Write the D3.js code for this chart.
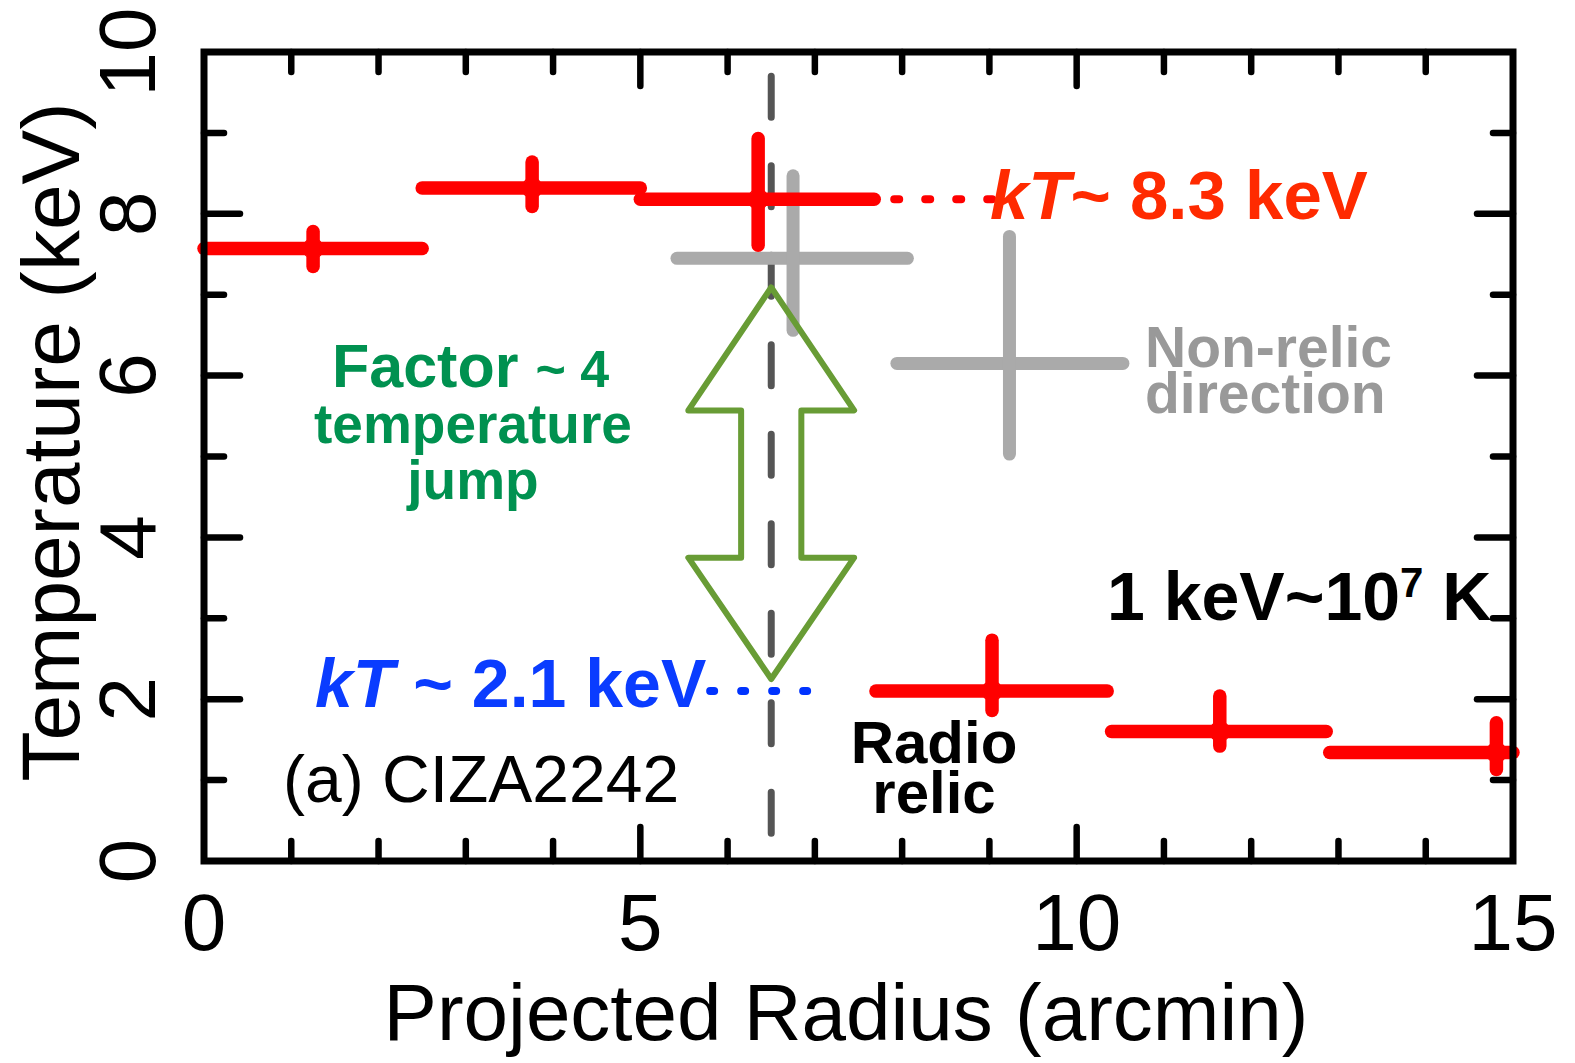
<!DOCTYPE html>
<html>
<head>
<meta charset="utf-8">
<script src="https://cdn.jsdelivr.net/npm/d3@7"></script>
<style>
  html, body { margin: 0; padding: 0; background: #fff; }
  svg { display: block; font-family: "Liberation Sans", Arial, Helvetica, sans-serif; }
</style>
</head>
<body>
<svg id="chart" width="1575" height="1063"></svg>
<script>
// Temperature profile along the relic direction (red) and the non-relic direction (grey)
const binLo  = [0.0, 2.5, 5.0, 7.7, 10.4, 12.9];
const binHi  = [2.5, 5.0, 7.68, 10.35, 12.86, 15.0];
const radius = [1.25, 3.76, 6.35, 9.03, 11.64, 14.81];
const kT     = [7.57, 8.32, 8.18, 2.1, 1.6, 1.34];
const kTLo   = [7.35, 8.09, 7.61, 1.86, 1.42, 1.13];
const kTHi   = [7.78, 8.64, 8.93, 2.73, 2.04, 1.71];

const offRadius = [6.75, 9.23];
const offLo     = [5.42, 7.94];
const offHi     = [8.06, 10.53];
const offKT     = [7.45, 6.15];
const offKTLo   = [6.56, 5.03];
const offKTHi   = [8.47, 7.72];

const xMajorTicks = [0, 5, 10, 15];
const yMajorTicks = [0, 2, 4, 6, 8, 10];
const relicRadius = 6.5;

(function draw() {
  const svg = d3.select("#chart");
  const pl = 204, pr = 1513, pt = 52, pb = 861;
  const x = d3.scaleLinear().domain([0, 15]).range([pl, pr]);
  const y = d3.scaleLinear().domain([0, 10]).range([pb, pt]);

  const RED = "#ff0000", GREY = "#aaaaaa";

  // shock position
  svg.append("line")
    .attr("x1", x(relicRadius)).attr("x2", x(relicRadius))
    .attr("y1", y(9.7)).attr("y2", y(0.05))
    .attr("stroke", "#555").attr("stroke-width", 7)
    .attr("stroke-linecap", "round").attr("stroke-dasharray", "41 48.5");

  // non-relic direction crosses
  const off = svg.append("g").attr("stroke", GREY).attr("stroke-width", 13).attr("stroke-linecap", "round");
  offRadius.forEach((r, i) => {
    off.append("line").attr("x1", x(offLo[i])).attr("x2", x(offHi[i])).attr("y1", y(offKT[i])).attr("y2", y(offKT[i]));
    off.append("line").attr("x1", x(r)).attr("x2", x(r)).attr("y1", y(offKTLo[i])).attr("y2", y(offKTHi[i]));
  });

  // guide dots to the labels
  svg.append("line")
    .attr("x1", x(7.68)).attr("x2", x(9.2)).attr("y1", y(kT[2])).attr("y2", y(kT[2]))
    .attr("stroke", RED).attr("stroke-width", 8).attr("stroke-linecap", "round")
    .attr("stroke-dasharray", "5 26").attr("stroke-dashoffset", -20);
  svg.append("line")
    .attr("x1", x(5.8)).attr("x2", x(7.0)).attr("y1", y(kT[3])).attr("y2", y(kT[3]))
    .attr("stroke", "#0033ff").attr("stroke-width", 8).attr("stroke-linecap", "round")
    .attr("stroke-dasharray", "4 27");

  // relic direction error bars
  const rel = svg.append("g").attr("stroke", RED).attr("stroke-width", 13.5).attr("stroke-linecap", "round");
  radius.forEach((r, i) => {
    rel.append("line").attr("x1", x(binLo[i])).attr("x2", x(binHi[i])).attr("y1", y(kT[i])).attr("y2", y(kT[i]));
    rel.append("line").attr("x1", x(r)).attr("x2", x(r)).attr("y1", y(kTLo[i])).attr("y2", y(kTHi[i]));
  });
  svg.append("g").selectAll("circle").data(radius).join("circle")
    .attr("cx", d => x(d)).attr("cy", (d, i) => y(kT[i])).attr("r", 10)
    .attr("fill", "none").attr("stroke", RED).attr("stroke-width", 1.2);

  // double-headed arrow marking the temperature jump
  const headW = 0.95, shaftW = 0.345;
  const arrowPts = [
    [relicRadius, 7.09],
    [relicRadius + headW, 5.57],
    [relicRadius + shaftW, 5.57],
    [relicRadius + shaftW, 3.75],
    [relicRadius + headW, 3.75],
    [relicRadius, 2.25],
    [relicRadius - headW, 3.75],
    [relicRadius - shaftW, 3.75],
    [relicRadius - shaftW, 5.57],
    [relicRadius - headW, 5.57]
  ];
  svg.append("path")
    .attr("d", d3.line().x(d => x(d[0])).y(d => y(d[1]))(arrowPts) + "Z")
    .attr("fill", "none").attr("stroke", "#689c35").attr("stroke-width", 6)
    .attr("stroke-linejoin", "round");

  // frame and ticks
  svg.append("rect").attr("x", pl).attr("y", pt).attr("width", pr - pl).attr("height", pb - pt)
    .attr("fill", "none").attr("stroke", "#000").attr("stroke-width", 7);
  const ticks = svg.append("g").attr("stroke", "#000").attr("stroke-width", 6.5).attr("stroke-linecap", "round");
  d3.range(1, 15).forEach(v => {
    const len = xMajorTicks.includes(v) ? 34 : 20;
    ticks.append("line").attr("x1", x(v)).attr("x2", x(v)).attr("y1", pb).attr("y2", pb - len);
    ticks.append("line").attr("x1", x(v)).attr("x2", x(v)).attr("y1", pt).attr("y2", pt + len);
  });
  d3.range(1, 10).forEach(v => {
    const len = yMajorTicks.includes(v) ? 36 : 20;
    ticks.append("line").attr("x1", pl).attr("x2", pl + len).attr("y1", y(v)).attr("y2", y(v));
    ticks.append("line").attr("x1", pr).attr("x2", pr - len).attr("y1", y(v)).attr("y2", y(v));
  });

  // tick labels
  svg.append("g").selectAll("text").data(xMajorTicks).join("text")
    .attr("x", d => x(d)).attr("y", 950).attr("text-anchor", "middle")
    .attr("font-size", 80).text(d => d);
  svg.append("g").selectAll("text").data(yMajorTicks).join("text")
    .attr("transform", d => `translate(155,${y(d)}) rotate(-90)`)
    .attr("text-anchor", "middle").attr("font-size", 80).text(d => d);

  // axis titles
  svg.append("text").attr("x", 846).attr("y", 1040).attr("text-anchor", "middle")
    .attr("font-size", 80).text("Projected Radius (arcmin)");
  svg.append("text").attr("transform", "translate(79,442) rotate(-90)").attr("text-anchor", "middle")
    .attr("font-size", 82).text("Temperature (keV)");

  // annotations
  const hot = svg.append("text").attr("x", 990).attr("y", 219).attr("font-size", 69)
    .attr("font-weight", "bold").attr("fill", "#ff2a00");
  hot.append("tspan").attr("font-style", "italic").text("kT");
  hot.append("tspan").text("~ 8.3 keV");

  const cold = svg.append("text").attr("x", 315).attr("y", 707).attr("font-size", 68)
    .attr("font-weight", "bold").attr("fill", "#0a3cff");
  cold.append("tspan").attr("font-style", "italic").text("kT");
  cold.append("tspan").text(" ~ 2.1 keV");

  // multi-line labels as a single text block
  const fac = svg.append("text").attr("font-weight", "bold").attr("fill", "#009150");
  fac.append("tspan").attr("x", 332).attr("y", 387).attr("font-size", 61).text("Factor ");
  fac.append("tspan").attr("font-size", 52).text("~ 4");
  fac.append("tspan").attr("x", 473).attr("y", 443).attr("text-anchor", "middle").attr("font-size", 55).text("temperature");
  fac.append("tspan").attr("x", 473).attr("y", 499).attr("text-anchor", "middle").attr("font-size", 55).text("jump");

  const nonRelic = svg.append("text").attr("font-size", 57).attr("font-weight", "bold").attr("fill", "#999");
  nonRelic.append("tspan").attr("x", 1145).attr("y", 367).text("Non-relic");
  nonRelic.append("tspan").attr("x", 1145).attr("y", 413).text("direction");

  const relic = svg.append("text").attr("text-anchor", "middle").attr("font-size", 60).attr("font-weight", "bold");
  relic.append("tspan").attr("x", 934).attr("y", 763).text("Radio");
  relic.append("tspan").attr("x", 934).attr("y", 813).text("relic");

  const conv = svg.append("text").attr("x", 1107).attr("y", 620).attr("font-size", 68).attr("font-weight", "bold");
  conv.append("tspan").text("1 keV~10");
  conv.append("tspan").attr("font-size", 42).attr("dy", -23).text("7");
  conv.append("tspan").attr("dy", 23).text(" K");

  svg.append("text").attr("x", 283).attr("y", 802).attr("font-size", 66).text("(a) CIZA2242");
})();
</script>
</body>
</html>
